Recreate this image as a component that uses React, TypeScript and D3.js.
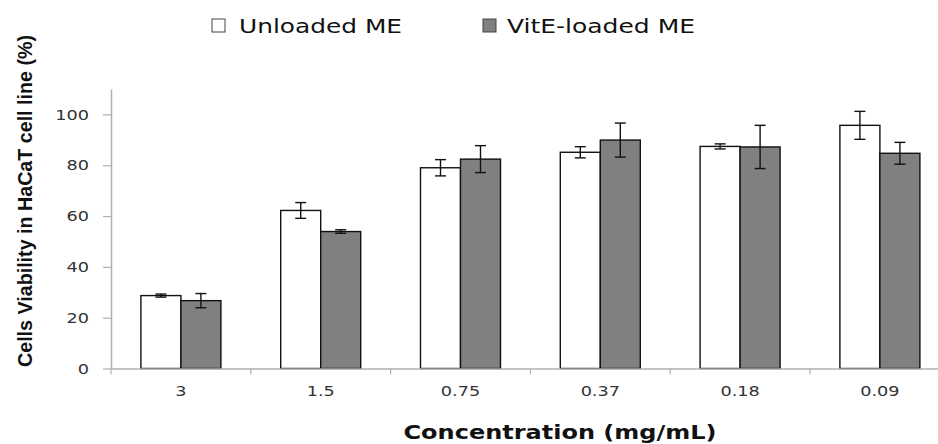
import React, { useEffect, useRef } from 'react';
import * as d3 from 'd3';

const categories = ['3', '1.5', '0.75', '0.37', '0.18', '0.09'];
const seriesNames = ['Unloaded ME', 'VitE-loaded ME'];
const unloaded = [28.7, 62.2, 79.0, 85.1, 87.4, 95.7];
const unloadedErr = [0.6, 3.1, 3.2, 2.2, 1.0, 5.5];
const vitE = [26.7, 53.9, 82.4, 89.9, 87.2, 84.7];
const vitEErr = [2.8, 0.7, 5.3, 6.7, 8.5, 4.3];
const yTicks = [0, 20, 40, 60, 80, 100];
const fills = ['#ffffff', '#808080'];

const W = 938;
const H = 444;

export default function App() {
  const ref = useRef<SVGSVGElement>(null);

  useEffect(() => {
    const svg = d3.select(ref.current);
    svg.selectAll('*').remove();

    const left = 111;
    const band = 139.8;
    const stretch = 1.22; // reference text is horizontally stretched
    const x0 = d3.scaleBand().domain(categories).range([left, left + band * categories.length]);
    const x1 = d3.scaleBand().domain(seriesNames).range([0, 80]);
    const y = d3.scaleLinear().domain([0, 110]).range([368.5, 89]);

    const rows = categories.map((c, i) => ({
      cat: c,
      vals: [
        { s: seriesNames[0], v: unloaded[i], e: unloadedErr[i], fill: fills[0] },
        { s: seriesNames[1], v: vitE[i], e: vitEErr[i], fill: fills[1] },
      ],
    }));

    // y axis
    const yAxis = svg.append('g').attr('transform', `translate(${left},0)`)
      .call(d3.axisLeft(y).tickValues(yTicks).tickSize(8).tickSizeOuter(0));
    yAxis.select('.domain').attr('stroke', '#b0b0b0').attr('stroke-width', 1.5);
    yAxis.selectAll('.tick line').attr('stroke', '#b0b0b0').attr('stroke-width', 1.2);
    yAxis.selectAll('.tick text')
      .attr('x', -22 / stretch)
      .attr('fill', '#333')
      .style('font-family', 'DejaVu Sans')
      .style('font-size', '14.5px')
      .attr('transform', `scale(${stretch},1)`);

    // bars
    const g = svg.append('g');
    const groups = g.selectAll('g.grp').data(rows).enter().append('g')
      .attr('transform', (d) => `translate(${(x0(d.cat) as number) + (band - 80) / 2},0)`);
    groups.selectAll('rect').data((d) => d.vals).enter().append('rect')
      .attr('x', (d) => x1(d.s) as number)
      .attr('y', (d) => y(d.v))
      .attr('width', x1.bandwidth())
      .attr('height', (d) => y(0) - y(d.v))
      .attr('fill', (d) => d.fill)
      .attr('stroke', '#111')
      .attr('stroke-width', 1.4);

    // error bars
    const eb = groups.selectAll('g.err').data((d) => d.vals).enter().append('g')
      .attr('stroke', '#111').attr('stroke-width', 1.4);
    const cx = (d: any) => (x1(d.s) as number) + x1.bandwidth() / 2;
    eb.append('line').attr('x1', cx).attr('x2', cx)
      .attr('y1', (d) => y(d.v + d.e)).attr('y2', (d) => y(d.v - d.e));
    eb.append('line').attr('x1', (d) => cx(d) - 5.5).attr('x2', (d) => cx(d) + 5.5)
      .attr('y1', (d) => y(d.v + d.e)).attr('y2', (d) => y(d.v + d.e));
    eb.append('line').attr('x1', (d) => cx(d) - 5.5).attr('x2', (d) => cx(d) + 5.5)
      .attr('y1', (d) => y(d.v - d.e)).attr('y2', (d) => y(d.v - d.e));

    // x axis
    const xAxis = svg.append('g').attr('transform', `translate(0,${y(0)})`)
      .call(d3.axisBottom(x0).tickSize(0).tickSizeOuter(0));
    xAxis.select('.domain').attr('stroke', '#b0b0b0').attr('stroke-width', 1.5);
    xAxis.selectAll('.tick text')
      .attr('y', 17)
      .attr('fill', '#333')
      .style('font-family', 'DejaVu Sans')
      .style('font-size', '14.5px')
      .attr('transform', `scale(${stretch},1)`);
    // category boundary ticks
    svg.append('g').selectAll('line').data(categories).enter().append('line')
      .attr('x1', (d) => x0(d) as number).attr('x2', (d) => x0(d) as number)
      .attr('y1', y(0)).attr('y2', y(0) + 6)
      .attr('stroke', '#b0b0b0').attr('stroke-width', 1.2);

    // axis titles
    svg.append('text')
      .attr('x', 560).attr('y', 439)
      .attr('text-anchor', 'middle')
      .style('font-family', 'DejaVu Sans')
      .style('font-weight', 'bold')
      .style('font-size', '19px')
      .attr('textLength', 313)
      .attr('lengthAdjust', 'spacingAndGlyphs')
      .attr('fill', '#111')
      .text('Concentration (mg/mL)');
    svg.append('text')
      .attr('transform', 'translate(32,201) rotate(-90)')
      .attr('text-anchor', 'middle')
      .style('font-family', 'Liberation Sans')
      .style('font-weight', 'bold')
      .style('font-size', '21px')
      .attr('textLength', 332)
      .attr('lengthAdjust', 'spacingAndGlyphs')
      .attr('fill', '#111')
      .text('Cells Viability in HaCaT cell line (%)');

    // legend
    const legendX = [212, 483];
    const legendLen = [163, 188];
    const lg = svg.append('g').selectAll('g').data(seriesNames).enter().append('g')
      .attr('transform', (d, i) => `translate(${legendX[i]},19)`);
    lg.append('rect').attr('width', 13).attr('height', 13)
      .attr('fill', (d, i) => fills[i]).attr('stroke', '#444').attr('stroke-width', 1);
    lg.append('text').attr('x', (d, i) => (i === 0 ? 27 : 24)).attr('y', 14)
      .style('font-family', 'DejaVu Sans')
      .style('font-size', '20px')
      .attr('textLength', (d, i) => legendLen[i])
      .attr('lengthAdjust', 'spacingAndGlyphs')
      .attr('fill', '#111')
      .text((d) => d);
  }, []);

  return (
    <svg ref={ref} width={W} height={H} style={{ position: 'absolute', left: 0, top: 0, background: '#fff' }} />
  );
}
